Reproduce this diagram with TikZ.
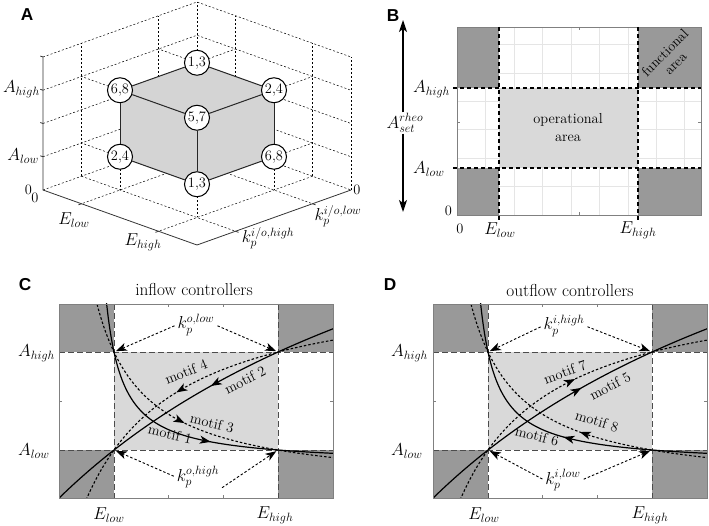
\documentclass[tikz,border=0pt]{standalone}
\usepackage{fontspec}
\newfontfamily\panelfont{Liberation Sans}
\usetikzlibrary{arrows.meta}

\definecolor{darkcell}{gray}{0.6}
\definecolor{opcell}{gray}{0.85}
\definecolor{cubeface}{gray}{0.83}
\definecolor{framegray}{gray}{0.5}
\definecolor{gridgray}{gray}{0.9}
\definecolor{limitgray}{gray}{0.3}

\begin{document}
\begin{tikzpicture}[
    x=1pt, y=-1pt,
    paneltag/.style={font=\panelfont\bfseries\LARGE},
    lbl/.style={font=\LARGE, inner sep=1pt},
    txt/.style={font=\Large, inner sep=1pt},
    motif/.style={font=\Large, inner sep=1pt},
    vertex/.style={circle, draw, line width=1pt, fill=white, minimum size=25pt, inner sep=0pt, font=\Large},
    gridln/.style={black, line width=0.5pt, dash pattern=on 2pt off 2pt},
    axisln/.style={black!80, line width=0.8pt},
    cubeedge/.style={black!85, line width=1pt},
    plotframe/.style={draw=framegray, line width=0.8pt},
    finegrid/.style={gridgray, line width=0.4pt},
    limitB/.style={black, line width=1.3pt, dash pattern=on 4pt off 3pt},
    limitCD/.style={limitgray, line width=0.8pt, dash pattern=on 6pt off 3pt},
    solidcurve/.style={black, line width=1.2pt},
    dottedcurve/.style={black, line width=1.1pt, dash pattern=on 2.5pt off 2pt},
    headseg/.style={black, line width=1.2pt, -{Stealth[length=11pt, width=8pt, inset=3pt]}},
    kparrow/.style={black, line width=0.9pt, dash pattern=on 2.5pt off 2pt, -{Stealth[length=11pt, width=8pt, inset=3pt]}, shorten <=2pt, shorten >=2pt},
    bigarrow/.style={black, line width=1.4pt, -{Stealth[length=12pt, width=8pt, inset=3pt]}},
    declare function={
      fdec(\u)=0.1725/(\u+0.15)-0.15;
      gdec(\u)=0.56/(\u+0.4)-0.4;
      finc(\u)=4.22-13.59/(\u+3.22);
      ginc(\u)=1.757-1.33/(\u+0.757);
    },
]
\useasboundingbox (0,0) rectangle (709,526);

% ---------------- A: parameter cube ----------------
\node[paneltag] (tagA) at (27,15) {A};

\begin{scope}[shift={(197pt,-135pt)}, x={(38.5pt,-13.75pt)}, y={(-38.5pt,-13.75pt)}, z={(0pt,33.25pt)}]
  % back walls and floor
  \foreach \a in {0,1,2,3,4}
    \draw[gridln] (0,4,\a) -- (0,0,\a) -- (4,0,\a);
  \foreach \k in {0,1,3}
    \draw[gridln] (0,\k,0) -- (0,\k,4);
  \foreach \e in {1,3,4}
    \draw[gridln] (\e,0,0) -- (\e,0,4);
  \foreach \e in {1,3}
    \draw[gridln] (\e,0,0) -- (\e,4,0);
  \foreach \k in {1,3}
    \draw[gridln] (0,\k,0) -- (4,\k,0);

  % projections of the corners
  \draw[gridln] (1,3,3) -- (0,3,3);
  \draw[gridln] (1,1,3) -- (0,1,3);
  \draw[gridln] (1,1,3) -- (1,0,3);
  \draw[gridln] (3,1,3) -- (3,0,3);
  \draw[gridln] (1,3,1) -- (0,3,1);
  \draw[gridln] (1,3,1) -- (1,3,0);
  \draw[gridln] (3,3,1) -- (3,3,0);
  \draw[gridln] (3,1,1) -- (3,0,1);
  \draw[gridln] (3,1,1) -- (3,1,0);

  % axes
  \draw[axisln] (0,4,4) -- (0,4,0) -- (4,4,0) -- (4,0,0);
  \foreach \a in {1,2,3,4}
    \draw[axisln] (0,4,\a) -- (-0.07,4,\a);
  \foreach \e in {1,3}
    \draw[axisln] (\e,4,0) -- (\e,4.08,0);
  \foreach \k in {1,3}
    \draw[axisln] (4,\k,0) -- (4.08,\k,0);

  % cube
  \coordinate (c113) at (1,1,3);
  \coordinate (c133) at (1,3,3);
  \coordinate (c313) at (3,1,3);
  \coordinate (c333) at (3,3,3);
  \coordinate (c131) at (1,3,1);
  \coordinate (c331) at (3,3,1);
  \coordinate (c311) at (3,1,1);
  \fill[cubeface] (c113) -- (c313) -- (c333) -- (c133) -- cycle;
  \fill[cubeface] (c133) -- (c333) -- (c331) -- (c131) -- cycle;
  \fill[cubeface] (c313) -- (c333) -- (c331) -- (c311) -- cycle;

  \node[vertex] (vTop) at (c113) {1,3};
  \node[vertex] (vLeftTop) at (c133) {6,8};
  \node[vertex] (vRightTop) at (c313) {2,4};
  \node[vertex] (vMid) at (c333) {5,7};
  \node[vertex] (vLeftBot) at (c131) {2,4};
  \node[vertex] (vBot) at (c331) {1,3};
  \node[vertex] (vRightBot) at (c311) {6,8};

  \draw[cubeedge] (vTop) -- (vRightTop) -- (vMid) -- (vLeftTop) -- (vTop);
  \draw[cubeedge] (vLeftTop) -- (vLeftBot);
  \draw[cubeedge] (vMid) -- (vBot);
  \draw[cubeedge] (vRightTop) -- (vRightBot);
  \draw[cubeedge] (vLeftBot) -- (vBot) -- (vRightBot);
\end{scope}

% axis labels
\node[lbl, anchor=east] (aHighA) at (41,89) {$A_{high}$};
\node[lbl, anchor=east] (aLowA) at (40,156) {$A_{low}$};
\node[txt] (zeroA) at (28.5,190) {0};
\node[txt] (zeroE) at (35,198) {0};
\node[txt] (zeroK) at (357,190) {0};
\node[lbl] (eLowA) at (74,220) {$E_{low}$};
\node[lbl] (eHighA) at (143,242) {$E_{high}$};
\node[lbl] (kLowA) at (338,216) {$k_p^{i/o,low}$};
\node[lbl] (kHighA) at (268,238) {$k_p^{i/o,high}$};

% ---------------- B: operational and functional areas ----------------
\node[paneltag] (tagB) at (393,16) {B};

\begin{scope}[shift={(457pt,-215pt)}, x=9.385pt, y=9.4pt]
  \draw[finegrid] (0,0) grid (26,20);
\end{scope}

\fill[darkcell] (457,27) rectangle (499,88);
\fill[darkcell] (638,27) rectangle (701,88);
\fill[darkcell] (457,168) rectangle (499,215);
\fill[darkcell] (638,168) rectangle (701,215);
\fill[opcell] (499,88) rectangle (638,168);
\draw[plotframe] (457,27) rectangle (701,215);
\draw[plotframe] (579,27) -- (579,30) (579,215) -- (579,212);
\draw[plotframe] (457,122) -- (460,122) (701,122) -- (698,122);

\draw[limitB] (453,88) -- (701,88);
\draw[limitB] (453,168) -- (701,168);
\draw[limitB] (499,27) -- (499,220);
\draw[limitB] (638,27) -- (638,220);

\node[lbl, anchor=west] (aHighB) at (412,89) {$A_{high}$};
\node[lbl, anchor=west] (aLowB) at (412,169) {$A_{low}$};
\node[txt] (zeroAB) at (448.5,211) {0};
\node[txt] (zeroEB) at (460,229) {0};
\node[lbl] (eLowB) at (500,230) {$E_{low}$};
\node[lbl] (eHighB) at (638,230) {$E_{high}$};

\node[txt, align=center] (oparea) at (568,128) {operational\\area};
\node[font=\fontsize{14}{15}\selectfont, align=center, rotate=45, inner sep=0pt] (funcarea) at (670,58) {functional\\area};

\node[lbl] (aset) at (405,123) {$A^{rheo}_{set}$};
\coordinate (asetTop) at (403,20);
\coordinate (asetBot) at (403,212);
\draw[bigarrow] (aset.north -| asetTop) -- (asetTop);
\draw[bigarrow] (aset.south -| asetBot) -- (asetBot);

% ---------------- C and D: common background ----------------
\foreach \dx in {0,374} {
  \begin{scope}[shift={(\dx,0)}]
    \fill[darkcell] (59,304) rectangle (114,352);
    \fill[darkcell] (278,304) rectangle (333,352);
    \fill[darkcell] (59,450) rectangle (114,498);
    \fill[darkcell] (278,450) rectangle (333,498);
    \fill[opcell] (114,352) rectangle (278,450);
    \draw[limitCD] (59,352) -- (333,352);
    \draw[limitCD] (59,450) -- (333,450);
    \draw[limitCD] (114,304) -- (114,498);
    \draw[limitCD] (278,304) -- (278,498);
    \begin{scope}
      \clip (59,304) rectangle (333,498);
      \begin{scope}[shift={(114pt,-450pt)}, x=164pt, y=98pt]
        \draw[solidcurve] plot[domain=-0.05:1.34, samples=200] (\x,{fdec(\x)});
        \draw[dottedcurve] plot[domain=-0.11:1.34, samples=200] (\x,{gdec(\x)});
        \draw[solidcurve] plot[domain=-0.34:1.34, samples=100] (\x,{finc(\x)});
        \draw[dottedcurve] plot[domain=-0.17:1.34, samples=100] (\x,{ginc(\x)});
      \end{scope}
    \end{scope}
    \draw[plotframe] (59,304) rectangle (333,498);
    \foreach \t in {168.7,223.3}
      \draw[plotframe] (\t,304) -- (\t,307) (\t,498) -- (\t,495);
    \draw[plotframe] (59,401) -- (62,401) (333,401) -- (330,401);
  \end{scope}
}

% ---------------- C: inflow controllers ----------------
\node[paneltag] (tagC) at (25,285) {C};
\node[lbl] (titleC) at (194,290) {inflow controllers};

\begin{scope}[shift={(114pt,-450pt)}, x=164pt, y=98pt]
  \draw[headseg] (0.55,{fdec(0.55)}) -- (0.59,{fdec(0.59)});
  \draw[headseg] (0.39,{gdec(0.39)}) -- (0.43,{gdec(0.43)});
  \draw[headseg] (0.63,{finc(0.63)}) -- (0.59,{finc(0.59)});
  \draw[headseg] (0.42,{ginc(0.42)}) -- (0.38,{ginc(0.38)});
\end{scope}

\node[motif, rotate=22] (m4) at (186,372) {motif 4};
\node[motif, rotate=27] (m2) at (245,380) {motif 2};
\node[motif, rotate=-13] (m3) at (212,423) {motif 3};
\node[motif, rotate=-13] (m1) at (170,434) {motif 1};

\coordinate (cLoHi) at (114,352);
\coordinate (cHiHi) at (278,352);
\coordinate (cLoLo) at (114,450);
\coordinate (cHiLo) at (278,450);
\node[lbl] (kol) at (196,325) {$k_p^{o,low}$};
\draw[kparrow] (kol.west) -- (cLoHi);
\draw[kparrow] (kol.east) -- (cHiHi);
\node[lbl] (koh) at (198,477) {$k_p^{o,high}$};
\draw[kparrow] (koh.west) -- (cLoLo);
\draw[kparrow] (koh.south east) -- (cHiLo);

\node[lbl, anchor=west] (aHighC) at (17,353) {$A_{high}$};
\node[lbl, anchor=west] (aLowC) at (17,451) {$A_{low}$};
\node[lbl] (eLowC) at (109,515) {$E_{low}$};
\node[lbl] (eHighC) at (275,515) {$E_{high}$};

% ---------------- D: outflow controllers ----------------
\node[paneltag] (tagD) at (390,285) {D};
\node[lbl] (titleD) at (570,291) {outflow controllers};

\begin{scope}[shift={(488pt,-450pt)}, x=164pt, y=98pt]
  \draw[headseg] (0.53,{finc(0.53)}) -- (0.57,{finc(0.57)});
  \draw[headseg] (0.49,{ginc(0.49)}) -- (0.53,{ginc(0.53)});
  \draw[headseg] (0.60,{gdec(0.60)}) -- (0.56,{gdec(0.56)});
  \draw[headseg] (0.50,{fdec(0.50)}) -- (0.46,{fdec(0.46)});
\end{scope}

\node[motif, rotate=20] (m7) at (565,372) {motif 7};
\node[motif, rotate=28] (m5) at (610,386) {motif 5};
\node[motif, rotate=-17] (m8) at (597,421) {motif 8};
\node[motif, rotate=-14] (m6) at (537,436) {motif 6};

\coordinate (dLoHi) at (488,352);
\coordinate (dHiHi) at (652,352);
\coordinate (dLoLo) at (488,450);
\coordinate (dHiLo) at (652,450);
\node[lbl] (kih) at (564,326) {$k_p^{i,high}$};
\draw[kparrow] (kih.west) -- (dLoHi);
\draw[kparrow] (kih.east) -- (dHiHi);
\node[lbl] (kil) at (563,480) {$k_p^{i,low}$};
\draw[kparrow] (kil.west) -- (dLoLo);
\draw[kparrow] (kil.east) -- (dHiLo);

\node[lbl, anchor=west] (aHighD) at (390,353) {$A_{high}$};
\node[lbl, anchor=west] (aLowD) at (390,451) {$A_{low}$};
\node[lbl] (eLowD) at (484,515) {$E_{low}$};
\node[lbl] (eHighD) at (650,515) {$E_{high}$};

\end{tikzpicture}
\end{document}
